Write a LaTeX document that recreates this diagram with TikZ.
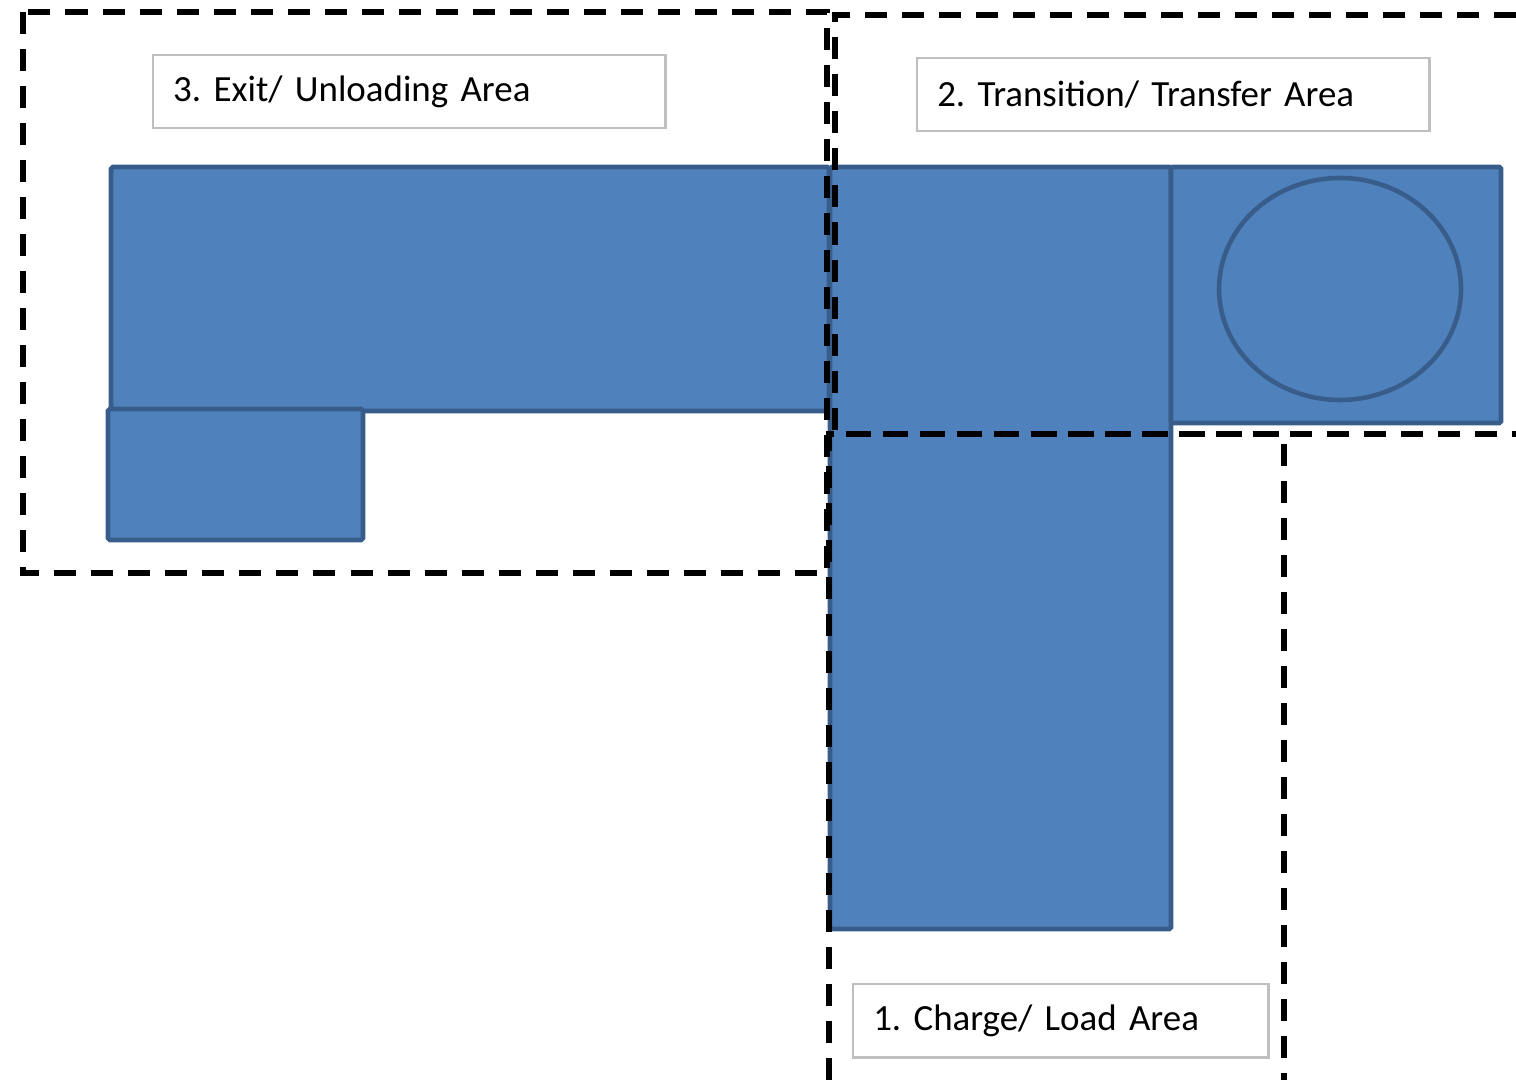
\documentclass[tikz,border=0pt]{standalone}
\usepackage{fontspec}
\setmainfont{Carlito}
\usepackage{tikz}
\usetikzlibrary{positioning}
\definecolor{plantBlue}{HTML}{4F81BD}
\definecolor{plantEdge}{HTML}{385D8A}
\definecolor{labelGray}{HTML}{BFBFBF}

\begin{document}
\frenchspacing
\begin{tikzpicture}[
        x=0.01cm, y=-0.01cm,
        unitbox/.style={
            fill=plantBlue,
            draw=plantEdge,
            line width=1.3pt,
            rounded corners=0.5pt
        },
        zoneline/.style={
            draw=black,
            line width=1.8pt,
            dash pattern=on 0.22cm off 0.15cm
        },
        arealabel/.style={
            draw=labelGray,
            line width=0.7pt,
            fill=white,
            anchor=north west,
            align=left,
            inner xsep=0.2cm,
            inner ysep=0pt,
            minimum height=0.73cm,
            font=\fontsize{10.5}{12.5}\selectfont
        }
    ]

    % Pixelraster 1516 x 1080, y nedad.
    \useasboundingbox (0,0) rectangle (1516,1080);

    % Anlaeggets dele
    \path[unitbox] (111,167) rectangle (829,411);
    \path[unitbox] (830,167) rectangle (1171,929);
    \path[unitbox] (1171,167) rectangle (1501,423);
    \path[unitbox] (1340,289) ellipse [x radius=121, y radius=111];
    \path[unitbox] (108,409) rectangle (363,540);

    % Zonegraenser
    \path[zoneline] (23,12) rectangle (827,573);
    \path[zoneline] (1516,15) -- (835,15) -- (835,434) -- (1516,434);
    \path[zoneline] (829,1080) -- (829,434) -- (1284,434) -- (1284,1080);

    % Omraadenavne
    \node[arealabel, text width=4.72cm] (exitlabel) at (152,54)
        {3. Exit/ Unloading Area};
    \node[arealabel, text width=4.72cm] (transferlabel) at (916,57)
        {2. Transition/ Transfer Area};
    \node[arealabel, text width=3.75cm] (chargelabel) at (852,983)
        {1. Charge/ Load Area};

\end{tikzpicture}
\end{document}
